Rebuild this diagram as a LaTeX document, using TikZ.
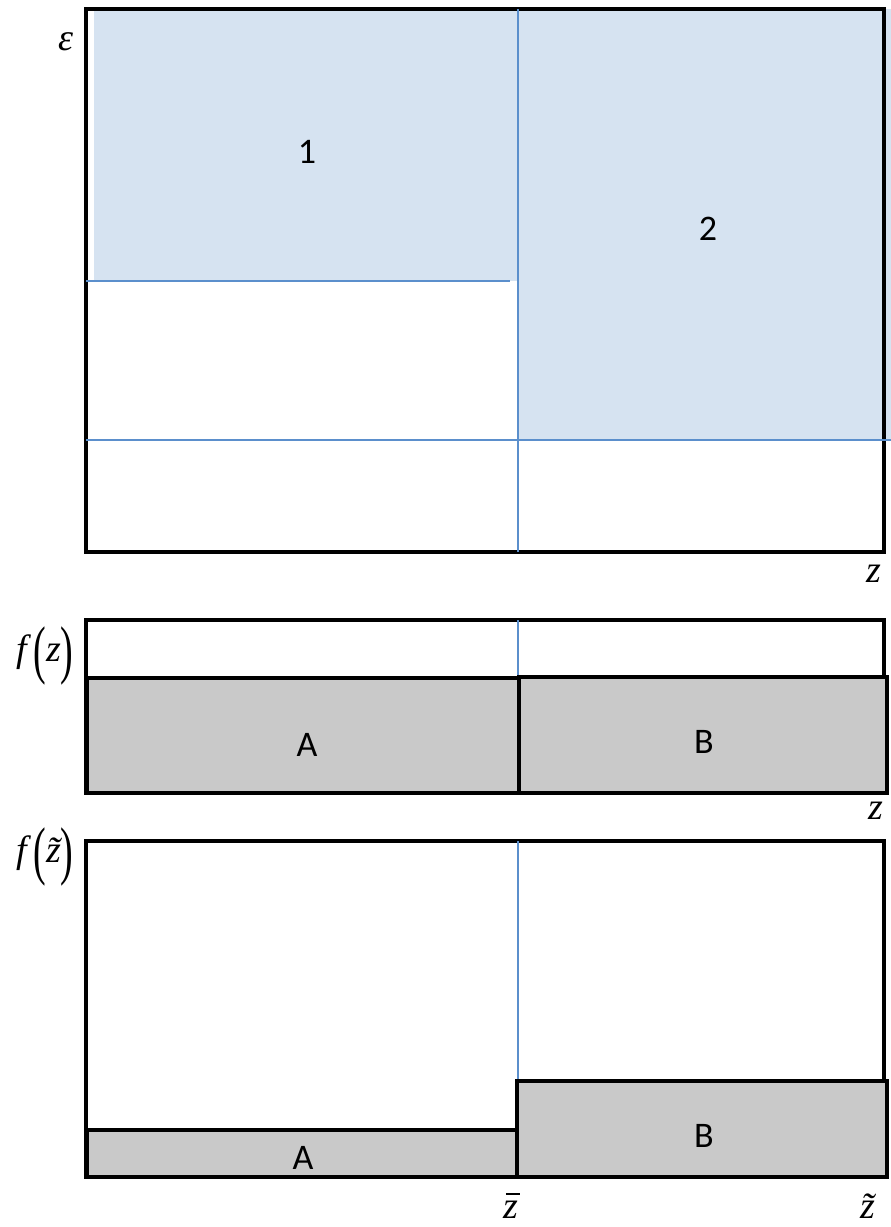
\documentclass[tikz,border=0pt]{standalone}
\usepackage{fontspec}
\usepackage{graphicx}
\setmainfont{Liberation Serif}
\newfontfamily\calib{Carlito}
\definecolor{pale}{RGB}{214,227,241}
\definecolor{lineblue}{RGB}{91,143,204}
\definecolor{boxgray}{RGB}{201,201,201}
\tikzset{
  frame/.style={draw=black,line width=3.2pt},
  bline/.style={draw=lineblue,line width=2.8pt},
  grayrect/.style={fill=boxgray,draw=black,line width=3.2pt},
  numlbl/.style={font=\calib\fontsize{36}{40}\selectfont,inner sep=0pt},
  mathlbl/.style={font=\fontsize{38}{40}\selectfont\itshape,inner sep=0pt},
}
\newcommand{\bigpar}[1]{\raisebox{-0.27em}{\scalebox{1}[1.7]{\upshape #1}}}
\newcommand{\zbarred}{\rlap{\hspace{0.06em}\raisebox{0.62em}{\rule{0.36em}{0.045em}}}z}
\begin{document}
\begin{tikzpicture}[x=1pt,y=-1pt]
\useasboundingbox (0,0) rectangle (891,1227);
% ---------- top panel ----------
\fill[pale] (94,9) rectangle (518,281);
\fill[pale] (518,9) rectangle (891,440);
\draw[frame] (86,9) rectangle (884,552);
\coordinate (h1a) at (86,281);
\coordinate (h1b) at (510,281);
\coordinate (h2a) at (86,440);
\coordinate (h2b) at (891,440);
\coordinate (v1a) at (518,9);
\coordinate (v1b) at (518,552);
\draw[bline] (h1a) -- (h1b);
\draw[bline] (h2a) -- (h2b);
\draw[bline] (v1a) -- (v1b);
\node[mathlbl] (eps) at (66,42) {ε};
\node[numlbl] (r1) at (307,152) {1};
\node[numlbl] (r2) at (708,229) {2};
\node[mathlbl] (z1) at (874,574) {z};
% ---------- middle panel ----------
\draw[frame] (86,620) rectangle (884,793);
\coordinate (v2a) at (518,620);
\coordinate (v2b) at (518,678);
\draw[bline] (v2a) -- (v2b);
\draw[grayrect] (87,678) rectangle (519,793);
\draw[grayrect] (519,677) rectangle (887,793);
\node[numlbl] (mA) at (307,745) {A};
\node[numlbl] (mB) at (704,742) {B};
\node[mathlbl] (fz) at (45,656) {f\,\bigpar{(}z\bigpar{)}};
\node[mathlbl] (z2) at (876,811) {z};
% ---------- bottom panel ----------
\draw[frame] (86,841) rectangle (884,1177);
\coordinate (v3a) at (518,841);
\coordinate (v3b) at (518,1081);
\draw[bline] (v3a) -- (v3b);
\draw[grayrect] (87,1130) rectangle (517,1177);
\draw[grayrect] (517,1081) rectangle (887,1177);
\node[numlbl] (bA) at (303,1158) {A};
\node[numlbl] (bB) at (704,1136) {B};
\node[mathlbl] (fzt) at (45,857) {f\,\bigpar{(}z̃\bigpar{)}};
\node[mathlbl] (zbar) at (511,1206) {\zbarred};
\node[mathlbl] (ztil) at (868,1206) {z̃};
\end{tikzpicture}
\end{document}
